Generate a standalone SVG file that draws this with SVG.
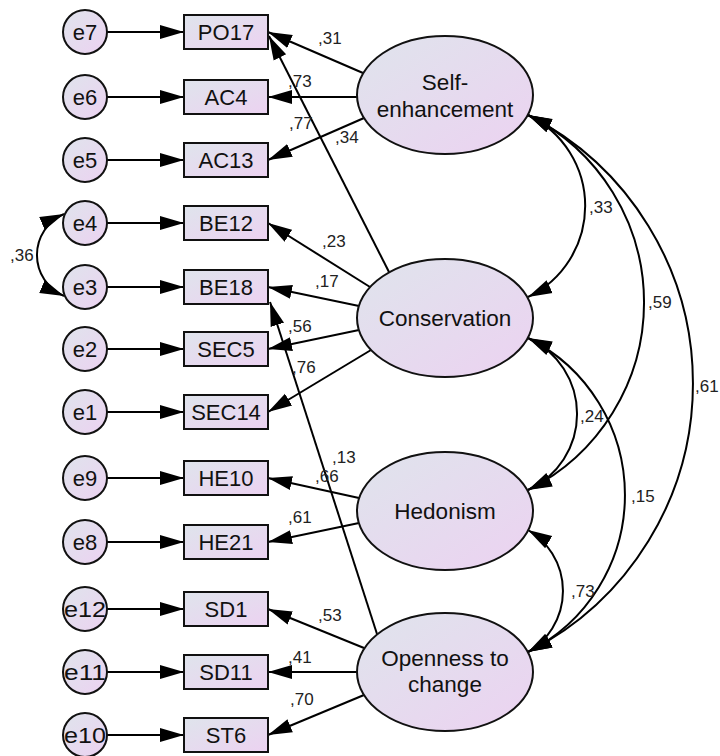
<svg xmlns="http://www.w3.org/2000/svg" width="720" height="756" viewBox="0 0 720 756">
<defs>
<linearGradient id="g" x1="0" y1="0" x2="1" y2="1">
<stop offset="0" stop-color="#dfe4ec"/>
<stop offset="1" stop-color="#ecd2f1"/>
</linearGradient>
<marker id="ah" markerUnits="userSpaceOnUse" markerWidth="26" markerHeight="16" viewBox="0 0 26 16" refX="24" refY="8" orient="auto-start-reverse">
<path d="M0,1 L24,8 L0,15 z" fill="#000"/>
</marker>
<style>
.sh{fill:url(#g);stroke:#111;stroke-width:2}
.t{font-family:"Liberation Sans",Arial,sans-serif;font-size:22px;fill:#111;text-anchor:middle}
.tl{font-family:"Liberation Sans",Arial,sans-serif;font-size:22.5px;fill:#111;text-anchor:middle}
.c{fill:none;stroke:#000;stroke-width:2;marker-end:url(#ah)}
.cv{fill:none;stroke:#000;stroke-width:2;marker-start:url(#ah);marker-end:url(#ah)}
.lb{font-family:"Liberation Sans",Arial,sans-serif;font-size:17px;fill:#222}
</style>
</defs>
<rect width="720" height="756" fill="#fff"/>

<g id="connectors">
<path class="c" d="M107,32 L184,32"/>
<path class="c" d="M107,97 L184,97"/>
<path class="c" d="M107,160 L184,160"/>
<path class="c" d="M107,223 L184,223"/>
<path class="c" d="M107,287 L184,287"/>
<path class="c" d="M107,349 L184,349"/>
<path class="c" d="M107,412 L184,412"/>
<path class="c" d="M107,478 L184,478"/>
<path class="c" d="M107,542 L184,542"/>
<path class="c" d="M107,609 L184,609"/>
<path class="c" d="M107,672 L184,672"/>
<path class="c" d="M107,735 L184,735"/>

<path class="c" d="M363,73 L268,32"/>
<path class="c" d="M357,97 L268,97"/>
<path class="c" d="M364,118 L268,160"/>

<path class="c" d="M389,272 L269,36"/>
<path class="c" d="M370,287 L268,223"/>
<path class="c" d="M359,306 L268,287"/>
<path class="c" d="M359,330 L268,349"/>
<path class="c" d="M371,350 L268,412"/>

<path class="c" d="M359,498 L268,478"/>
<path class="c" d="M359,523 L268,542"/>

<path class="c" d="M377,634 L270,302"/>
<path class="c" d="M364,648 L268,609"/>
<path class="c" d="M357,672 L268,672"/>
<path class="c" d="M364,695 L268,735"/>

<path class="cv" d="M528,115 A101,101 0 0,1 528,297"/>
<path class="cv" d="M528,115 A209.5,209.5 0 0,1 528,490"/>
<path class="cv" d="M528,115 A301,301 0 0,1 528,652"/>
<path class="cv" d="M528,338 A83.4,83.4 0 0,1 528,490"/>
<path class="cv" d="M528,338 A175.6,175.6 0 0,1 528,652"/>
<path class="cv" d="M528,530 A70.7,70.7 0 0,1 528,652"/>
<path class="cv" d="M64,214 A44.6,44.6 0 0,0 64,296"/>
</g>

<g id="e7"><circle class="sh" cx="85" cy="32" r="22"/><text class="t" x="85" y="40">e7</text></g>
<g id="e6"><circle class="sh" cx="85" cy="97" r="22"/><text class="t" x="85" y="105">e6</text></g>
<g id="e5"><circle class="sh" cx="85" cy="160" r="22"/><text class="t" x="85" y="168">e5</text></g>
<g id="e4"><circle class="sh" cx="85" cy="223" r="22"/><text class="t" x="85" y="231">e4</text></g>
<g id="e3"><circle class="sh" cx="85" cy="287" r="22"/><text class="t" x="85" y="295">e3</text></g>
<g id="e2"><circle class="sh" cx="85" cy="349" r="22"/><text class="t" x="85" y="357">e2</text></g>
<g id="e1"><circle class="sh" cx="85" cy="412" r="22"/><text class="t" x="85" y="420">e1</text></g>
<g id="e9"><circle class="sh" cx="85" cy="478" r="22"/><text class="t" x="85" y="486">e9</text></g>
<g id="e8"><circle class="sh" cx="85" cy="542" r="22"/><text class="t" x="85" y="550">e8</text></g>
<g id="e12"><circle class="sh" cx="85" cy="609" r="22"/><text class="t" x="85" y="617" textLength="42" lengthAdjust="spacingAndGlyphs">e12</text></g>
<g id="e11"><circle class="sh" cx="85" cy="672" r="22"/><text class="t" x="85" y="680" textLength="42" lengthAdjust="spacingAndGlyphs">e11</text></g>
<g id="e10"><circle class="sh" cx="85" cy="735" r="22"/><text class="t" x="85" y="743" textLength="42" lengthAdjust="spacingAndGlyphs">e10</text></g>

<g id="PO17"><rect class="sh" x="184" y="15" width="84" height="34"/><text class="t" x="226" y="40">PO17</text></g>
<g id="AC4"><rect class="sh" x="184" y="80" width="84" height="34"/><text class="t" x="226" y="105">AC4</text></g>
<g id="AC13"><rect class="sh" x="184" y="143" width="84" height="34"/><text class="t" x="226" y="168">AC13</text></g>
<g id="BE12"><rect class="sh" x="184" y="206" width="84" height="34"/><text class="t" x="226" y="231">BE12</text></g>
<g id="BE18"><rect class="sh" x="184" y="270" width="84" height="34"/><text class="t" x="226" y="295">BE18</text></g>
<g id="SEC5"><rect class="sh" x="184" y="332" width="84" height="34"/><text class="t" x="226" y="357">SEC5</text></g>
<g id="SEC14"><rect class="sh" x="184" y="395" width="84" height="34"/><text class="t" x="226" y="420">SEC14</text></g>
<g id="HE10"><rect class="sh" x="184" y="461" width="84" height="34"/><text class="t" x="226" y="486">HE10</text></g>
<g id="HE21"><rect class="sh" x="184" y="525" width="84" height="34"/><text class="t" x="226" y="550">HE21</text></g>
<g id="SD1"><rect class="sh" x="184" y="592" width="84" height="34"/><text class="t" x="226" y="617">SD1</text></g>
<g id="SD11"><rect class="sh" x="184" y="655" width="84" height="34"/><text class="t" x="226" y="680">SD11</text></g>
<g id="ST6"><rect class="sh" x="184" y="718" width="84" height="34"/><text class="t" x="226" y="743">ST6</text></g>

<g id="SelfEnhancement"><ellipse class="sh" cx="445" cy="95" rx="88" ry="59"/><text class="tl" x="445" y="90">Self-</text><text class="tl" x="445" y="117">enhancement</text></g>
<g id="Conservation"><ellipse class="sh" cx="445" cy="318" rx="88" ry="59"/><text class="tl" x="445" y="326">Conservation</text></g>
<g id="Hedonism"><ellipse class="sh" cx="445" cy="511" rx="88" ry="59"/><text class="tl" x="445" y="519">Hedonism</text></g>
<g id="Openness"><ellipse class="sh" cx="445" cy="672" rx="88" ry="59"/><text class="tl" x="445" y="666">Openness to</text><text class="tl" x="445" y="692">change</text></g>

<g id="labels">
<text class="lb" x="318" y="44">,31</text>
<text class="lb" x="288" y="87">,73</text>
<text class="lb" x="289" y="129">,77</text>
<text class="lb" x="335" y="143">,34</text>
<text class="lb" x="322" y="247">,23</text>
<text class="lb" x="315" y="287">,17</text>
<text class="lb" x="288" y="332">,56</text>
<text class="lb" x="292" y="373">,76</text>
<text class="lb" x="332" y="463">,13</text>
<text class="lb" x="315" y="482">,66</text>
<text class="lb" x="288" y="523">,61</text>
<text class="lb" x="318" y="621">,53</text>
<text class="lb" x="288" y="663">,41</text>
<text class="lb" x="290" y="705">,70</text>
<text class="lb" x="589" y="213">,33</text>
<text class="lb" x="648" y="308">,59</text>
<text class="lb" x="695" y="392">,61</text>
<text class="lb" x="580" y="422">,24</text>
<text class="lb" x="631" y="502">,15</text>
<text class="lb" x="571" y="597">,73</text>
<text class="lb" x="10" y="261">,36</text>
</g>
</svg>
